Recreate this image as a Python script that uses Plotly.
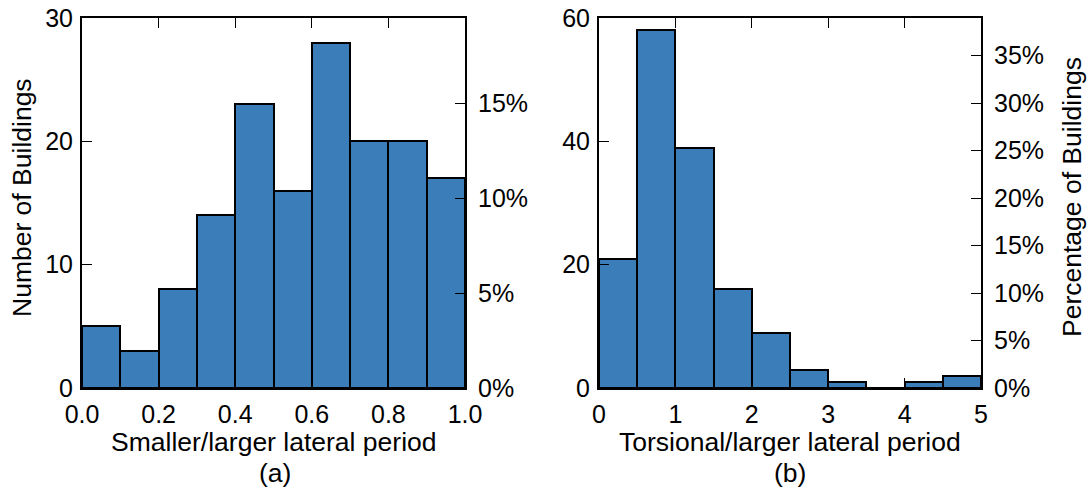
import plotly.graph_objects as go

# ---- data ----
edges_a = [0.0, 0.1, 0.2, 0.3, 0.4, 0.5, 0.6, 0.7, 0.8, 0.9, 1.0]
counts_a = [5, 3, 8, 14, 23, 16, 28, 20, 20, 17]
edges_b = [0.0, 0.5, 1.0, 1.5, 2.0, 2.5, 3.0, 3.5, 4.0, 4.5, 5.0]
counts_b = [21, 58, 39, 16, 9, 3, 1, 0, 1, 2]
total_buildings = 154

xticks_a = [0.0, 0.2, 0.4, 0.6, 0.8, 1.0]
xticklabels_a = ["0.0", "0.2", "0.4", "0.6", "0.8", "1.0"]
yticks_a = [0, 10, 20, 30]
pticks_a = [0, 5, 10, 15]
xticks_b = [0, 1, 2, 3, 4, 5]
yticks_b = [0, 20, 40, 60]
pticks_b = [0, 5, 10, 15, 20, 25, 30, 35]

W, H = 1088, 489
BAR = "#3a7db9"
FONT = "Liberation Sans, Arial, sans-serif"
FS = 25
FS_T = 26.5


def mids(e):
    return [(e[i] + e[i + 1]) / 2 for i in range(len(e) - 1)]


def widths(e):
    return [e[i + 1] - e[i] for i in range(len(e) - 1)]


def pct(c):
    return [v / total_buildings * 100 for v in c]


def px(x):
    return x / W


def py(y):
    return 1 - y / H


fig = go.Figure()
fig.add_trace(go.Bar(x=mids(edges_a), y=counts_a, width=widths(edges_a),
                     marker=dict(color=BAR, line=dict(color="black", width=2)),
                     xaxis="x", yaxis="y", showlegend=False))
fig.add_trace(go.Bar(x=mids(edges_b), y=counts_b, width=widths(edges_b),
                     marker=dict(color=BAR, line=dict(color="black", width=2)),
                     xaxis="x2", yaxis="y3", showlegend=False))
# invisible traces so the percentage axes render
fig.add_trace(go.Scatter(x=mids(edges_a), y=pct(counts_a), mode="markers",
                         marker=dict(opacity=0), hoverinfo="skip",
                         xaxis="x", yaxis="y2", showlegend=False))
fig.add_trace(go.Scatter(x=mids(edges_b), y=pct(counts_b), mode="markers",
                         marker=dict(opacity=0), hoverinfo="skip",
                         xaxis="x2", yaxis="y4", showlegend=False))

ax_common = dict(showline=True, linecolor="black", linewidth=2, ticks="inside",
                 ticklen=10, tickwidth=1.2, tickcolor="black", showgrid=False,
                 zeroline=False, automargin=False,
                 tickfont=dict(family=FONT, size=FS, color="black"))

ydom = [py(388), py(18)]
fig.update_layout(
    width=W, height=H, margin=dict(l=0, r=0, t=0, b=0),
    paper_bgcolor="white", plot_bgcolor="white", bargap=0,
    font=dict(family=FONT, size=FS, color="black"),
    xaxis=dict(domain=[px(82), px(465)], range=[edges_a[0], edges_a[-1]], anchor="y",
               tickvals=xticks_a, ticktext=xticklabels_a, mirror="ticks",
               ticklabelstandoff=3, **ax_common),
    yaxis=dict(domain=ydom, range=[0, 30], anchor="x", tickvals=yticks_a,
               ticklabelstandoff=2, **ax_common),
    yaxis2=dict(overlaying="y", side="right", anchor="x",
                range=[0, 30 / total_buildings * 100], tickvals=pticks_a,
                ticktext=[f"{v}%" for v in pticks_a], ticklabelstandoff=6, **ax_common),
    xaxis2=dict(domain=[px(599), px(981)], range=[edges_b[0], edges_b[-1]], anchor="y3",
                tickvals=xticks_b, mirror="ticks", ticklabelstandoff=3, **ax_common),
    yaxis3=dict(domain=ydom, range=[0, 60], anchor="x2", tickvals=yticks_b,
                ticklabelstandoff=2, **ax_common),
    yaxis4=dict(overlaying="y3", side="right", anchor="x2",
                range=[0, 60 / total_buildings * 100], tickvals=pticks_b,
                ticktext=[f"{v}%" for v in pticks_b], ticklabelstandoff=6, **ax_common),
)

ann = [
    dict(text="Smaller/larger lateral period", x=px(274), y=py(442)),
    dict(text="(a)", x=px(275), y=py(473)),
    dict(text="Torsional/larger lateral period", x=px(790), y=py(442)),
    dict(text="(b)", x=px(790), y=py(473)),
    dict(text="Number of Buildings", x=px(22), y=py(198), textangle=-90),
    dict(text="Percentage of Buildings", x=px(1072), y=py(197), textangle=-90),
]
for a in ann:
    fig.add_annotation(xref="paper", yref="paper", showarrow=False,
                       xanchor="center", yanchor="middle", borderpad=0,
                       font=dict(family=FONT, size=FS_T, color="black"), **a)

fig.write_html("out.html")
